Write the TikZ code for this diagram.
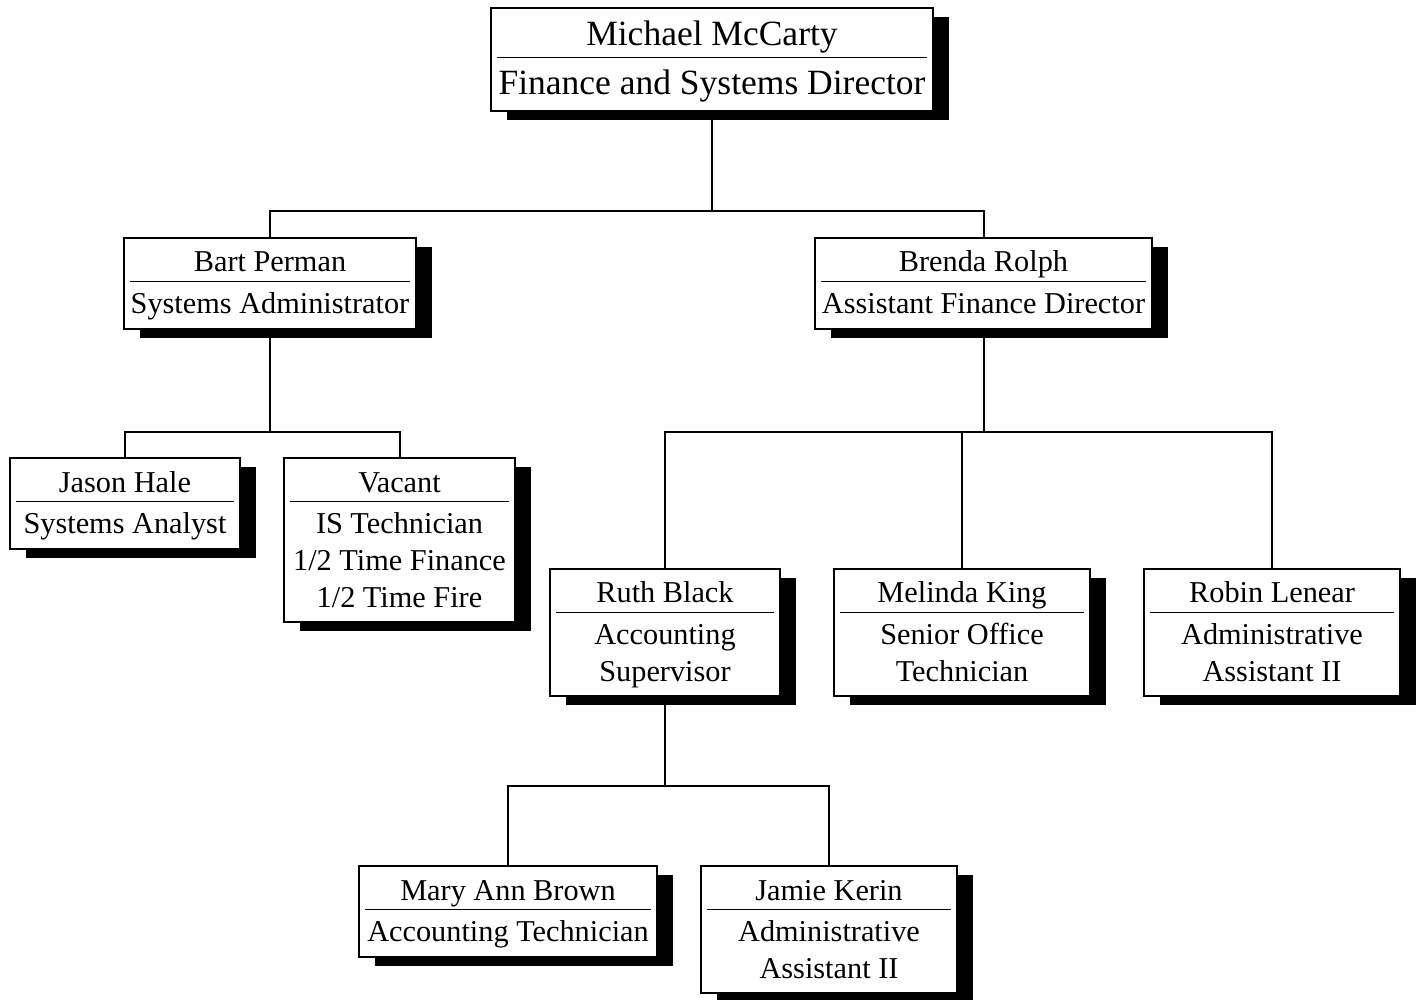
\documentclass[tikz,border=0pt]{standalone}
\usepackage{fontspec}
\setmainfont{Liberation Serif}
\usepackage{tikz}
\usetikzlibrary{shadows}
\newcommand{\postlead}{34pt}
\newcommand{\postgap}{9pt}
\newcommand{\postdrop}{31.5pt}
\newcommand{\postbox}[4]{\parbox[c][#2][t]{\dimexpr#1-12pt\relax}{\centering
    \rule[-\postgap]{0pt}{\dimexpr\postlead+\postgap\relax}#3\par
    \hrule height 1pt
    \rule{0pt}{\postdrop}#4\par}}

\begin{document}
\begin{tikzpicture}[
                x=1pt,y=-1pt,
                post/.style={draw,line width=2pt,fill=white,inner xsep=6pt,inner ysep=0pt,font=\fontsize{30.3}{37}\selectfont,drop shadow={shadow xshift=16pt,shadow yshift=-9pt,opacity=1,fill=black}},
                boss/.style={post,font=\fontsize{35.5}{44}\selectfont,execute at begin node={\def\postlead{37.5pt}\def\postgap{11.5pt}\def\postdrop{37pt}}},
                link/.style={line width=2pt}
            ]
                \useasboundingbox (0,0) rectangle (1421,1000);
                \node (mccarty) [boss] at (712,59.5) {\postbox{442pt}{103pt}{Michael McCarty}{Finance and Systems Director}};
                \node (bart) [post] at (270,283.5) {\postbox{292pt}{91pt}{Bart Perman}{Systems Administrator}};
                \node (brenda) [post] at (983.5,283.5) {\postbox{337pt}{91pt}{Brenda Rolph}{Assistant Finance Director}};
                \node (jason) [post] at (125,503.5) {\postbox{230pt}{91pt}{Jason Hale}{Systems Analyst}};
                \node (vacant) [post] at (399.5,540) {\postbox{231pt}{164pt}{Vacant}{IS Technician\\1/2 Time Finance\\1/2 Time Fire}};
                \node (ruth) [post] at (665,632) {\postbox{230pt}{127pt}{Ruth Black}{Accounting\\Supervisor}};
                \node (melinda) [post] at (962,632) {\postbox{256pt}{127pt}{Melinda King}{Senior Office\\Technician}};
                \node (robin) [post] at (1272,632) {\postbox{256pt}{127pt}{Robin Lenear}{Administrative\\Assistant II}};
                \node (maryann) [post] at (508,911.5) {\postbox{298pt}{91pt}{Mary Ann Brown}{Accounting Technician}};
                \node (jamie) [post] at (829,929.5) {\postbox{256pt}{127pt}{Jamie Kerin}{Administrative\\Assistant II}};
                \draw[link] (mccarty.south) -- ++(0,99) -| (bart.north);
                \draw[link] (mccarty.south) -- ++(0,99) -| (brenda.north);
                \draw[link] (bart.south) -- ++(0,102) -| (jason.north);
                \draw[link] (bart.south) -- ++(0,102) -| (vacant.north);
                \draw[link] (brenda.south) -- ++(0,102) -| (ruth.north);
                \draw[link] (brenda.south) -- ++(0,102) -| (melinda.north);
                \draw[link] (brenda.south) -- ++(0,102) -| (robin.north);
                \draw[link] (ruth.south) -- ++(0,89.5) -| (maryann.north);
                \draw[link] (ruth.south) -- ++(0,89.5) -| (jamie.north);
            \end{tikzpicture}
\end{document}
